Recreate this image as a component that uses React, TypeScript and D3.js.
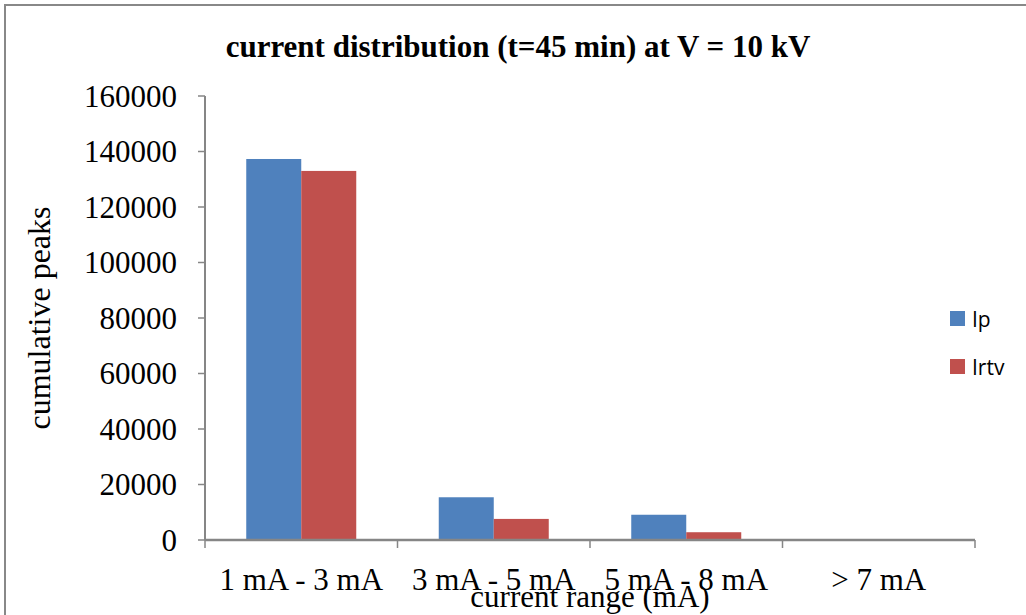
import React from "react";
import * as d3 from "d3";

const categories = ["1 mA - 3 mA", "3 mA - 5 mA", "5 mA - 8 mA", "> 7 mA"];
const seriesNames = ["Ip", "Irtv"];
const ipValues = [137300, 15400, 9100, 0];
const irtvValues = [133000, 7600, 2800, 0];
const yTicks = [0, 20000, 40000, 60000, 80000, 100000, 120000, 140000, 160000];
const colors = ["#4F81BD", "#C0504D"];

const W = 1026;
const H = 615;
const plot = { left: 205, right: 975, top: 96, bottom: 540 };

export default function App() {
  const x = d3
    .scaleBand<string>()
    .domain(categories)
    .range([plot.left, plot.right])
    .paddingInner(0)
    .paddingOuter(0);
  const y = d3.scaleLinear().domain([0, 160000]).range([plot.bottom, plot.top]);
  const bw = x.bandwidth();
  // Excel-style clustered bars: gap width 150% of one bar
  const barW = bw / 3.5;
  const groupOffset = (bw - 2 * barW) / 2;
  const series = [ipValues, irtvValues];
  const serif = "'Liberation Serif', 'Times New Roman', serif";
  const axisColor = "#868686";

  return (
    <svg
      width={W}
      height={H}
      style={{ position: "absolute", left: 0, top: 0, background: "#fff" }}
    >
      <rect x={5} y={5} width={W + 10} height={H + 10} fill="#fff" stroke="#888" strokeWidth={2} />
      <text
        x={518}
        y={57}
        textAnchor="middle"
        fontFamily={serif}
        fontWeight="bold"
        fontSize={31}
        fill="#000"
      >
        current distribution (t=45 min) at V = 10 kV
      </text>

      {/* bars */}
      {series.map((vals, si) =>
        vals.map((v, ci) => {
          const x0 = (x(categories[ci]) as number) + groupOffset + si * barW;
          return (
            <rect
              key={`${si}-${ci}`}
              x={x0}
              y={y(v)}
              width={barW}
              height={plot.bottom - y(v)}
              fill={colors[si]}
            />
          );
        })
      )}

      {/* y axis */}
      <line x1={plot.left} x2={plot.left} y1={plot.top} y2={plot.bottom} stroke={axisColor} strokeWidth={2} />
      {yTicks.map((t) => (
        <g key={t}>
          <line x1={plot.left - 7} x2={plot.left} y1={y(t)} y2={y(t)} stroke={axisColor} strokeWidth={1.5} />
          <text
            x={177}
            y={y(t)}
            dy="0.35em"
            textAnchor="end"
            fontFamily={serif}
            fontSize={31}
            fill="#000"
          >
            {t}
          </text>
        </g>
      ))}

      {/* x axis */}
      <line x1={plot.left} x2={plot.right} y1={plot.bottom} y2={plot.bottom} stroke={axisColor} strokeWidth={2.5} />
      {[...categories.map((c) => x(c) as number), plot.right].map((p, i) => (
        <line key={i} x1={p} x2={p} y1={plot.bottom} y2={plot.bottom + 8} stroke={axisColor} strokeWidth={1.5} />
      ))}
      {categories.map((c) => (
        <text
          key={c}
          x={(x(c) as number) + bw / 2}
          y={590}
          textAnchor="middle"
          fontFamily={serif}
          fontSize={31}
          fill="#000"
        >
          {c}
        </text>
      ))}

      <text x={590} y={607} textAnchor="middle" fontFamily={serif} fontSize={31} fill="#000">
        current range (mA)
      </text>
      <text
        transform={`translate(50, 318) rotate(-90)`}
        textAnchor="middle"
        fontFamily={serif}
        fontSize={32}
        fill="#000"
      >
        cumulative peaks
      </text>

      {/* legend */}
      {seriesNames.map((n, i) => (
        <g key={n} transform={`translate(950, ${311 + i * 48})`}>
          <rect width={15} height={15} fill={colors[i]} />
          <text x={22} y={16} fontFamily="'Open Sans', 'Liberation Sans', sans-serif" fontSize={21} fill="#000">
            {n}
          </text>
        </g>
      ))}
    </svg>
  );
}
